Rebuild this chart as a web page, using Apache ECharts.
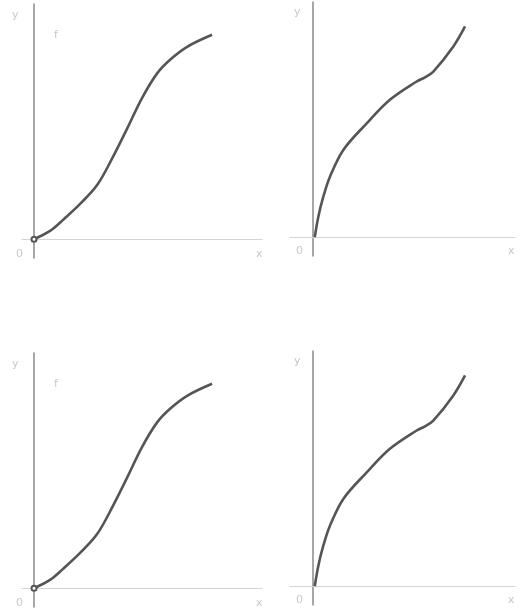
<!DOCTYPE html>
<html>
<head>
<meta charset="utf-8">
<script src="https://cdn.jsdelivr.net/npm/echarts@6/dist/echarts.min.js"></script>
<style>
  html, body { margin: 0; padding: 0; background: #fff; }
  #chart { width: 519px; height: 614px; }
</style>
</head>
<body>
<div id="chart"></div>
<script>
// S-shaped growth curve (left panels)
const sCurveX = [0, 0.67, 1.21, 1.92, 2.63, 3.29, 3.88, 4.5, 5.13, 5.67, 6.38, 7.42];
const sCurveY = [0, 0.35, 0.82, 1.5, 2.3, 3.5, 4.7, 6.0, 7.05, 7.63, 8.18, 8.69];

// concave rise with late upturn (right panels)
const riseX = [0.1, 0.26, 0.48, 0.78, 1.37, 2.41, 3.44, 4.63, 5.0, 5.37, 6.26, 6.78];
const riseY = [0, 0.87, 1.72, 2.58, 3.71, 4.84, 5.84, 6.62, 6.8, 7.04, 8.11, 8.96];

// axis labels
const yName = 'y';
const innerName = 'f';
const originLabel = '0';
const xName = 'x';

const pairs = (xs, ys) => xs.map((x, i) => [x, ys[i]]);

const chart = echarts.init(document.getElementById('chart'), null, { renderer: 'canvas' });

const rowOffset = 349;
const grids = [];
const xAxes = [];
const yAxes = [];
const series = [];
const texts = [];

function addPanel(idx, g, xr, yr, data, originMarker) {
  grids.push(g);
  xAxes.push({
    type: 'value', gridIndex: idx, min: xr[0], max: xr[1],
    axisLine: { onZero: true, lineStyle: { color: '#d4d4d4', width: 1.2 } },
    axisTick: { show: false }, axisLabel: { show: false }, splitLine: { show: false }
  });
  yAxes.push({
    type: 'value', gridIndex: idx, min: yr[0], max: yr[1],
    axisLine: { show: true, onZero: true, lineStyle: { color: '#8a8a8a', width: 1.5 } },
    axisTick: { show: false }, axisLabel: { show: false }, splitLine: { show: false }
  });
  const d = data.map((p, i) => (i === 0 && originMarker)
    ? { value: p, symbol: 'emptyCircle', symbolSize: 5 }
    : { value: p, symbol: 'none' });
  series.push({
    type: 'line', xAxisIndex: idx, yAxisIndex: idx, data: d,
    smooth: 0.35,
    showSymbol: true, symbol: 'none',
    lineStyle: { color: '#555', width: 2.6 },
    itemStyle: { color: '#555', borderColor: '#777', borderWidth: 1.2 },
    silent: true, animation: false
  });
}

for (let r = 0; r < 2; r++) {
  const dy = r * rowOffset;
  addPanel(r * 2, { left: 22, top: 4 + dy, width: 240, height: 254 },
    [-0.5, 9.5], [-0.8, 10], pairs(sCurveX, sCurveY), true);
  addPanel(r * 2 + 1, { left: 290, top: 2 + dy, width: 225, height: 254 },
    [-1, 9], [-0.8, 10], pairs(riseX, riseY), false);

  const st = { fill: '#c8c8c8', fontSize: 11, fontFamily: 'DejaVu Sans' };
  texts.push(
    { type: 'text', left: 12, top: 10 + dy, style: Object.assign({ text: yName }, st) },
    { type: 'text', left: 54, top: 30 + dy, style: Object.assign({ text: innerName }, st) },
    { type: 'text', left: 16, top: 249 + dy, style: Object.assign({ text: originLabel }, st) },
    { type: 'text', left: 256, top: 249 + dy, style: Object.assign({ text: xName }, st) },
    { type: 'text', left: 294, top: 7 + dy, style: Object.assign({ text: yName }, st) },
    { type: 'text', left: 296, top: 246 + dy, style: Object.assign({ text: originLabel }, st) },
    { type: 'text', left: 508, top: 246 + dy, style: Object.assign({ text: xName }, st) }
  );
}

chart.setOption({
  backgroundColor: '#fff',
  animation: false,
  grid: grids,
  xAxis: xAxes,
  yAxis: yAxes,
  series: series,
  graphic: texts
});
</script>
</body>
</html>
